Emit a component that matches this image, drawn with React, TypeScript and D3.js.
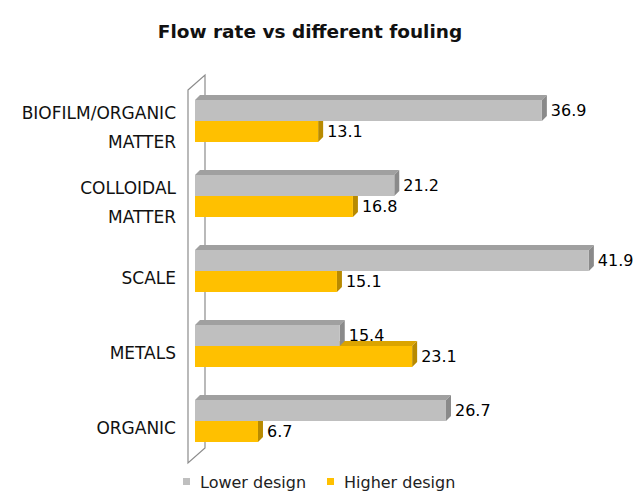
import React from "react";
import * as d3 from "d3";

const categories = ["BIOFILM/ORGANIC MATTER", "COLLOIDAL MATTER", "SCALE", "METALS", "ORGANIC"];
const categoryLines = [["BIOFILM/ORGANIC", "MATTER"], ["COLLOIDAL", "MATTER"], ["SCALE"], ["METALS"], ["ORGANIC"]];
const lowerDesign = [36.9, 21.2, 41.9, 15.4, 26.7];
const higherDesign = [13.1, 16.8, 15.1, 23.1, 6.7];
const seriesNames = ["Lower design", "Higher design"];

const W = 636;
const H = 493;
const FONT = "'DejaVu Sans', sans-serif";

const palette = [
  { front: "#bfbfbf", top: "#a0a0a0", side: "#8a8a8a" },
  { front: "#ffc000", top: "#dba400", side: "#b88a00" },
];

export default function App() {
  const x = d3.scaleLinear().domain([0, 45]).range([195, 618]);
  const y = d3.scaleBand().domain(categories).range([83.5, 458.5]);
  const barH = 21;
  const dx = 5;
  const dy = 5;

  const bar = (x0: number, x1: number, yt: number, c: typeof palette[0], key: string) => {
    const top = `M${x0},${yt} L${x0 + dx},${yt - dy} L${x1 + dx},${yt - dy} L${x1},${yt} Z`;
    const side = `M${x1},${yt} L${x1 + dx},${yt - dy} L${x1 + dx},${yt + barH - dy} L${x1},${yt + barH} Z`;
    return (
      <g key={key}>
        <path d={top} fill={c.top} />
        <path d={side} fill={c.side} />
        <rect x={x0} y={yt} width={x1 - x0} height={barH} fill={c.front} />
      </g>
    );
  };

  const wall = { fx: 188, bx: 205, top: 90, bottom: 463, d: 15 };

  return (
    <div style={{ position: "absolute", left: 0, top: 0 }}>
      <svg width={W} height={H} style={{ display: "block", background: "#fff" }}>
        <text x={310} y={38} textAnchor="middle" fontFamily={FONT} fontWeight="bold" fontSize={18.5} fill="#111">
          Flow rate vs different fouling
        </text>
        {/* wall */}
        <path
          d={`M${wall.fx},${wall.top} L${wall.bx},${wall.top - wall.d} L${wall.bx},${wall.bottom - wall.d} L${wall.fx},${wall.bottom} Z`}
          fill="#fff"
          stroke="#8c8c8c"
          strokeWidth={1.2}
        />
        {categories.map((cat, i) => {
          const c = (y(cat) as number) + y.bandwidth() / 2;
          const x0 = x(0);
          const xl = x(lowerDesign[i]);
          const xh = x(higherDesign[i]);
          return (
            <g key={cat}>
              {bar(x0, xh, c, palette[1], "h")}
              {bar(x0, xl, c - barH, palette[0], "l")}
              <text x={xl + dx + 4} y={c - barH / 2} dy="0.35em" fontFamily={FONT} fontSize={16} fill="#000">
                {lowerDesign[i]}
              </text>
              <text x={xh + dx + 4} y={c + barH / 2} dy="0.35em" fontFamily={FONT} fontSize={16} fill="#000">
                {higherDesign[i]}
              </text>
              {categoryLines[i].map((line, j) => {
                const n = categoryLines[i].length;
                const ly = c + 7 + (j - (n - 1) / 2) * 29;
                return (
                  <text key={j} x={176} y={ly} dy="0.35em" textAnchor="end" fontFamily={FONT} fontSize={17} fill="#111">
                    {line}
                  </text>
                );
              })}
            </g>
          );
        })}
        {/* legend */}
        {seriesNames.map((s, i) => {
          const lx = [183, 327][i];
          return (
            <g key={s}>
              <rect x={lx} y={478} width={7} height={7} fill={palette[i].front} />
              <text x={lx + 17} y={482} dy="0.35em" fontFamily={FONT} fontSize={16} fill="#222">
                {s}
              </text>
            </g>
          );
        })}
      </svg>
    </div>
  );
}
